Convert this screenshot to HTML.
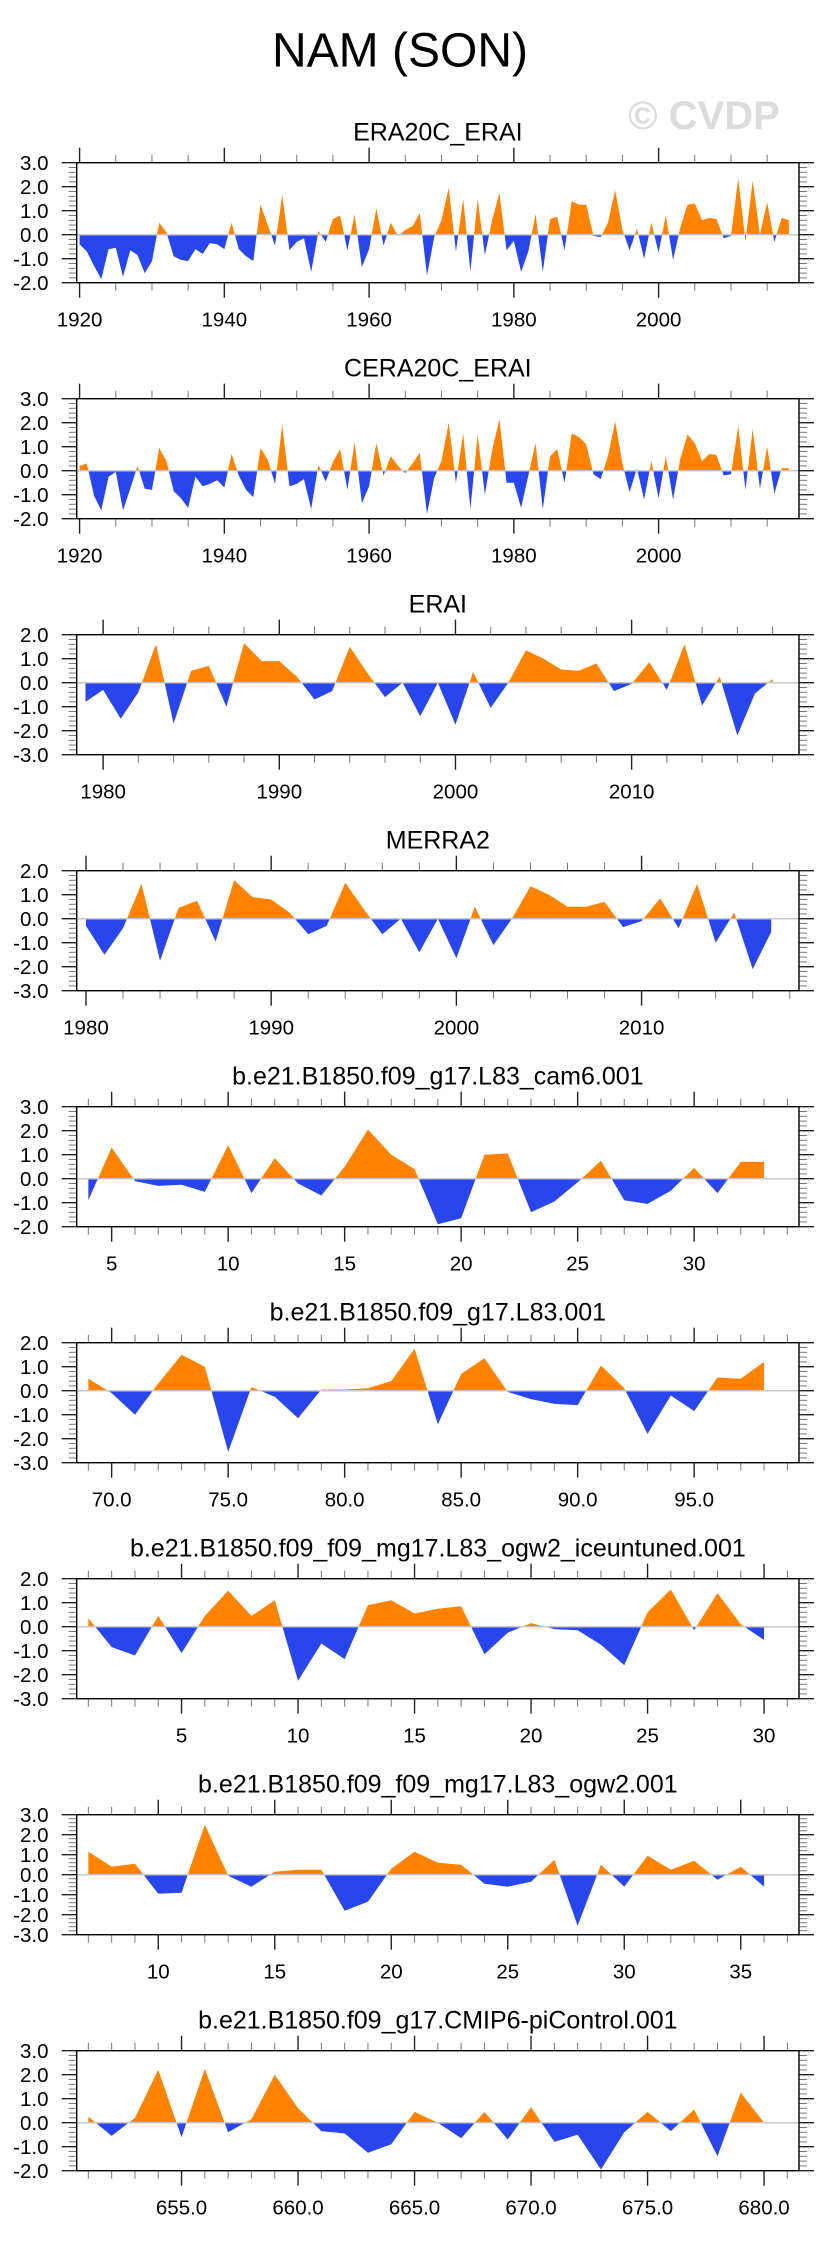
<!DOCTYPE html>
<html><head><meta charset="utf-8"><style>
html,body{margin:0;padding:0;background:#fff}
svg{display:block;font-family:"Liberation Sans",Arial,sans-serif}
</style></head><body>
<svg id="chart" width="829" height="2245" viewBox="0 0 829 2245" xmlns="http://www.w3.org/2000/svg">
<text x="400" y="66.7" font-size="48" text-anchor="middle" fill="#000">NAM (SON)</text>
<text x="704" y="129" font-size="40" font-weight="bold" text-anchor="middle" fill="#dcdcdc">© CVDP</text>
</svg>
<script>
// ---- data arrays ----
const era20cStart = 1920;
const era20cValues = [-0.4,-0.7,-1.3,-1.85,-0.6,-0.55,-1.75,-0.65,-0.85,-1.6,-1.1,0.5,0.1,-0.9,-1.05,-1.1,-0.6,-0.8,-0.35,-0.4,-0.6,0.5,-0.6,-0.9,-1.1,1.25,0.4,-0.45,1.65,-0.65,-0.3,-0.15,-1.55,0.15,-0.3,0.65,0.8,-0.65,0.85,-1.35,-0.6,1.1,-0.45,0.5,-0.05,0.2,0.35,0.9,-1.7,-0.1,0.6,1.95,-0.7,1.5,-1.55,1.5,-0.85,0.6,1.75,-0.65,-0.25,-1.55,-0.7,0.85,-1.55,0.65,0.75,-0.65,1.4,1.25,1.25,-0.05,-0.1,0.5,1.85,0.2,-0.65,0.25,-1.0,0.5,-0.75,0.8,-1.05,0.3,1.25,1.3,0.6,0.7,0.65,-0.15,-0.05,2.35,-0.25,2.25,0.0,1.35,-0.3,0.7,0.6];
const cera20cStart = 1920;
const cera20cValues = [0.2,0.3,-1.05,-1.65,-0.25,-0.05,-1.65,-0.75,0.2,-0.75,-0.8,0.95,0.4,-0.85,-1.15,-1.55,-0.25,-0.65,-0.55,-0.4,-0.7,0.7,-0.2,-0.8,-1.1,0.95,0.45,-0.55,1.9,-0.65,-0.55,-0.35,-1.6,0.25,-0.45,0.35,0.9,-0.8,1.2,-1.35,-0.65,1.15,-0.2,0.6,0.2,-0.1,0.3,0.75,-1.8,-0.3,0.4,2.0,-0.5,1.55,-1.6,1.5,-1.0,0.85,2.15,-0.5,-0.5,-1.55,-0.2,1.15,-1.6,0.6,0.9,-0.5,1.55,1.4,1.1,-0.15,-0.35,0.6,2.05,0.3,-0.9,0.1,-1.2,0.4,-1.15,0.6,-1.2,0.5,1.5,1.15,0.4,0.7,0.65,-0.2,-0.15,1.85,-0.8,1.75,-0.75,1.0,-0.95,0.1,0.1];
const eraiStart = 1979;
const eraiValues = [-0.8,-0.3,-1.5,-0.4,1.6,-1.7,0.5,0.7,-1.0,1.65,0.9,0.9,0.25,-0.7,-0.35,1.5,0.4,-0.6,0.0,-1.4,0.0,-1.75,0.45,-1.05,0.0,1.35,1.0,0.55,0.5,0.8,-0.35,-0.05,0.85,-0.3,1.6,-0.95,0.25,-2.2,-0.45,0.15];
const merra2Start = 1980;
const merra2Values = [-0.3,-1.5,-0.4,1.45,-1.75,0.45,0.75,-0.95,1.6,0.9,0.8,0.25,-0.65,-0.3,1.5,0.4,-0.65,0.0,-1.4,0.0,-1.65,0.5,-1.1,0.0,1.35,1.0,0.5,0.5,0.7,-0.35,-0.1,0.85,-0.4,1.45,-1.0,0.25,-2.1,-0.55];
const cam6Start = 4;
const cam6Values = [-0.9,1.3,-0.1,-0.3,-0.25,-0.55,1.4,-0.6,0.85,-0.2,-0.7,0.5,2.05,1.0,0.4,-1.9,-1.65,1.0,1.05,-1.4,-0.95,-0.15,0.75,-0.9,-1.05,-0.5,0.45,-0.6,0.7,0.7];
const l83Start = 69;
const l83Values = [0.5,-0.1,-1.0,0.3,1.5,1.0,-2.55,0.15,-0.25,-1.15,0.05,0.05,0.1,0.4,1.75,-1.4,0.7,1.35,-0.05,-0.35,-0.55,-0.6,1.05,0.1,-1.8,-0.2,-0.85,0.55,0.5,1.2];
const iceStart = 1;
const iceValues = [0.35,-0.85,-1.2,0.45,-1.1,0.45,1.5,0.45,1.1,-2.25,-0.7,-1.35,0.9,1.1,0.55,0.75,0.85,-1.15,-0.25,0.15,-0.1,-0.15,-0.75,-1.6,0.6,1.55,-0.15,1.4,0.1,-0.55];
const ogw2Start = 7;
const ogw2Values = [1.15,0.4,0.55,-0.95,-0.9,2.5,-0.05,-0.6,0.15,0.25,0.25,-1.8,-1.35,0.3,1.15,0.6,0.5,-0.45,-0.6,-0.35,0.75,-2.55,0.5,-0.6,0.95,0.25,0.7,-0.25,0.4,-0.6];
const piStart = 651;
const piValues = [0.25,-0.55,0.2,2.2,-0.6,2.25,-0.4,0.15,2.0,0.6,-0.35,-0.45,-1.25,-0.9,0.45,0.0,-0.65,0.45,-0.7,0.65,-0.8,-0.5,-1.95,-0.4,0.45,-0.35,0.55,-1.4,1.25,0.0];
const panelTitles = ["ERA20C_ERAI","CERA20C_ERAI","ERAI","MERRA2","b.e21.B1850.f09_g17.L83_cam6.001","b.e21.B1850.f09_g17.L83.001","b.e21.B1850.f09_f09_mg17.L83_ogw2_iceuntuned.001","b.e21.B1850.f09_f09_mg17.L83_ogw2.001","b.e21.B1850.f09_g17.CMIP6-piControl.001"];
const xTickLabels1 = [1920,1940,1960,1980,2000];
const xTickLabels3 = [1980,1990,2000,2010];
const xTickLabels5 = [5,10,15,20,25,30];
const xTickLabels6 = [70,75,80,85,90,95];
const xTickLabels8 = [10,15,20,25,30,35];
const xTickLabels9 = [655,660,665,670,675,680];

const panels = [
 {start:era20cStart, vals:era20cValues, xmin:1919.6, xmax:2019.4, ymin:-2, ymax:3, major:20, minor:5, labels:xTickLabels1, dec:0},
 {start:cera20cStart, vals:cera20cValues, xmin:1919.6, xmax:2019.4, ymin:-2, ymax:3, major:20, minor:5, labels:xTickLabels1, dec:0},
 {start:eraiStart, vals:eraiValues, xmin:1978.5, xmax:2019.5, ymin:-3, ymax:2, major:10, minor:2, labels:xTickLabels3, dec:0},
 {start:merra2Start, vals:merra2Values, xmin:1979.5, xmax:2018.5, ymin:-3, ymax:2, major:10, minor:2, labels:xTickLabels3, dec:0},
 {start:cam6Start, vals:cam6Values, xmin:3.5, xmax:34.5, ymin:-2, ymax:3, major:5, minor:1, labels:xTickLabels5, dec:0},
 {start:l83Start, vals:l83Values, xmin:68.5, xmax:99.5, ymin:-3, ymax:2, major:5, minor:1, labels:xTickLabels6, dec:1},
 {start:iceStart, vals:iceValues, xmin:0.5, xmax:31.5, ymin:-3, ymax:2, major:5, minor:1, labels:xTickLabels5, dec:0},
 {start:ogw2Start, vals:ogw2Values, xmin:6.5, xmax:37.5, ymin:-3, ymax:3, major:5, minor:1, labels:xTickLabels8, dec:0},
 {start:piStart, vals:piValues, xmin:650.5, xmax:681.5, ymin:-2, ymax:3, major:5, minor:1, labels:xTickLabels9, dec:1}
];

const NS = "http://www.w3.org/2000/svg";
const svg = document.getElementById('chart');
const FL = 76.7, FR = 799, FH = 120, TOP0 = 162.7, STEP = 236;
function mk(tag, attrs, parent){
  const e = document.createElementNS(NS, tag);
  for (const k in attrs) e.setAttribute(k, attrs[k]);
  (parent||svg).appendChild(e);
  return e;
}
panels.forEach((p, i) => {
  const top = TOP0 + STEP*i, bot = top + FH;
  const g = mk('g', {});
  
  
  const xs = v => FL + (v - p.xmin) / (p.xmax - p.xmin) * (FR - FL);
  const ys = v => bot - (v - p.ymin) / (p.ymax - p.ymin) * FH;
  const t = mk('text', {x:(FL+FR)/2, y:top-22, 'font-size':25, 'text-anchor':'middle', fill:'#000'}, g);
  t.textContent = panelTitles[i];
  
  
  const defs = mk('defs', {}, g);
  const cpA = mk('clipPath', {id:'ca'+i}, defs);
  mk('rect', {x:FL, y:top, width:FR-FL, height:ys(0)-top}, cpA);
  const cpB = mk('clipPath', {id:'cb'+i}, defs);
  mk('rect', {x:FL, y:ys(0), width:FR-FL, height:bot-ys(0)}, cpB);
  let pts = [];
  p.vals.forEach((v, k) => pts.push(xs(p.start + k).toFixed(2) + ',' + ys(v).toFixed(2)));
  const x0 = xs(p.start), x1 = xs(p.start + p.vals.length - 1), y0 = ys(0);
  const poly = x0.toFixed(2)+','+y0+' '+pts.join(' ')+' '+x1.toFixed(2)+','+y0;
  const pa = mk('polygon', {points:poly, fill:'#ff8200', 'clip-path':'url(#ca'+i+')'}, g);
  
  
  const pb = mk('polygon', {points:poly, fill:'#2846ec', 'clip-path':'url(#cb'+i+')'}, g);
  
  
  mk('line', {x1:FL, x2:FR, y1:y0, y2:y0, stroke:'#c8c8c8', 'stroke-width':1.5}, g);
  for (let v = p.ymin; v <= p.ymax + 1e-6; v += 0.2) {
    const yy = ys(v), isMaj = Math.abs(v - Math.round(v)) < 1e-6;
    const len = isMaj ? 15 : 8;
    mk('line', {x1:FL-len, x2:FL, y1:yy, y2:yy, stroke:isMaj?'#222':'#777', 'stroke-width':isMaj?1.4:1}, g);
    mk('line', {x1:FR, x2:FR+len, y1:yy, y2:yy, stroke:isMaj?'#222':'#777', 'stroke-width':isMaj?1.4:1}, g);
    if (isMaj) {
      const tl = mk('text', {x:48.5, y:yy+7.2, 'font-size':20.5, 'text-anchor':'end', fill:'#000'}, g);
      tl.textContent = Math.round(v).toFixed(1);
      
      
    }
  }
  const first = Math.ceil(p.xmin / p.minor) * p.minor;
  for (let v = first; v <= p.xmax; v += p.minor) {
    const xx = xs(v), isMaj = Math.abs(v / p.major - Math.round(v / p.major)) < 1e-6;
    const len = isMaj ? 15 : 8;
    mk('line', {x1:xx, x2:xx, y1:top-len, y2:top, stroke:isMaj?'#222':'#777', 'stroke-width':isMaj?1.4:1}, g);
    mk('line', {x1:xx, x2:xx, y1:bot, y2:bot+len, stroke:isMaj?'#222':'#777', 'stroke-width':isMaj?1.4:1}, g);
  }
  p.labels.forEach(v => {
    const xl = mk('text', {x:xs(v), y:bot+44, 'font-size':20.5, 'text-anchor':'middle', fill:'#000'}, g);
    xl.textContent = v.toFixed(p.dec);
    
    
  });
  const fr = mk('rect', {x:FL, y:top, width:FR-FL, height:FH, fill:'none', stroke:'#000', 'stroke-width':1.4}, g);
  
  
});
</script>
</body></html>
